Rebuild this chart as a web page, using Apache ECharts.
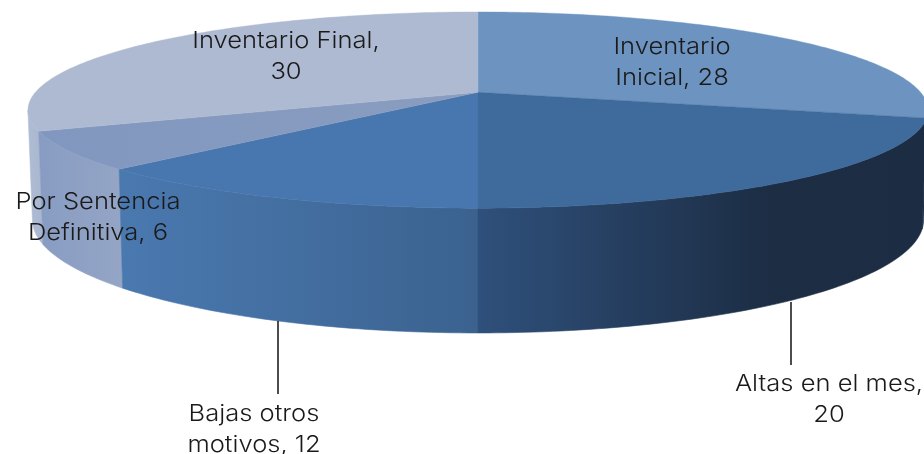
<!DOCTYPE html>
<html><head><meta charset="utf-8">
<style>html,body{margin:0;padding:0;background:#fff}#c{width:924px;height:454px}</style>
<script src="https://cdn.jsdelivr.net/npm/echarts@6/dist/echarts.min.js"></script>
</head><body><div id="c"></div>
<script>
var categories = ['Inventario Inicial','Altas en el mes','Bajas otros motivos','Por Sentencia Definitiva','Inventario Final'];
var values = [28,20,12,6,30];

// text as broken in the reference
var labelText = ['Inventario\nInicial, 28','Altas en el mes,\n20','Bajas otros\nmotivos, 12','Por Sentencia\nDefinitiva, 6','Inventario Final,\n30'];
var labelAt = [[672,62.5],[829,399.5],[254,429.5],[98,218],[286,56.5]];
var leaders = [null,[791,302,365],[278,321,394],null,null];
var topFill = ['#6D94C0','#3F6A9C','#4876AE',['#8197BF','#8A9DC0'],'#AEBAD2'];
var sideStops = [[[0,'#1C2D44'],[1,'#1C2D44']],[[0,'#2F507B'],[0.65,'#1C2D44'],[1,'#1B2C43']],[[0,'#4A79B0'],[1,'#3B628F']],[[0,'#889CC3'],[1,'#94A5C5']],[[0,'#AFBCD4'],[1,'#A9B6CF']]];

var cx = 478, e = 0.181;
var top_ = {a:442.6, b:94.9, y:92.3};
var bot = {a:438.2, b:109.3, y:199.5};
function proj(p,deg){
  var t = deg*Math.PI/180, X = Math.sin(t), Y = Math.cos(t), w = 1+e*Y;
  return [cx+p.a*X/w, p.y-p.b*Y/w];
}
var total = values.reduce(function(s,v){return s+v;},0);
var starts = []; values.reduce(function(s,v,i){starts[i]=s;return s+v;},0);
var edge = Math.acos(-e)*180/Math.PI;   // where the rim turns at the silhouette

function rim(p,a,b){
  var out=[], n=Math.max(2,Math.ceil(Math.abs(b-a)));
  for(var i=0;i<=n;i++) out.push(proj(p,a+(b-a)*i/n));
  return out;
}
function solid(c){
  return Array.isArray(c)?{type:'linear',x:0,y:0,x2:1,y2:0,colorStops:[{offset:0,color:c[0]},{offset:1,color:c[1]}]}:c;
}
function sideGrad(i){
  return {type:'linear',x:0,y:0,x2:1,y2:0,colorStops:sideStops[i].map(function(s){return {offset:s[0],color:s[1]};})};
}
function renderSide(params,api){
  var i = api.value(0), a0 = starts[i]/total*360, a1 = (starts[i]+api.value(1))/total*360;
  var kids = [];
  // side wall: only the part facing the viewer
  var s = Math.max(a0,edge), en = Math.min(a1,360-edge);
  if(s<en) kids.push({type:'polygon',shape:{points:rim(top_,s,en).concat(rim(bot,en,s))},style:{fill:sideGrad(i),stroke:sideGrad(i),lineWidth:0.6}});
  return {type:'group',children:kids};
}
function renderTop(params,api){
  var i = api.value(0), a0 = starts[i]/total*360, a1 = (starts[i]+api.value(1))/total*360;
  return {type:'polygon',shape:{points:[[cx,top_.y]].concat(rim(top_,a0,a1))},style:{fill:solid(topFill[i]),stroke:solid(topFill[i]),lineWidth:0.4}};
}
function renderLabel(params,api){
  var i = api.value(0), kids = [];
  var L = leaders[i];
  if(L) kids.push({type:'line',shape:{x1:L[0],y1:L[1],x2:L[0],y2:L[2]},style:{stroke:'#000',lineWidth:1.4}});
  kids.push({type:'text',x:labelAt[i][0],y:labelAt[i][1],scaleX:1.11,style:{text:labelText[i],fill:'#1a1a1a',font:'300 23px Inter',lineHeight:31,align:'center',verticalAlign:'middle'}});
  return {type:'group',children:kids};
}
var rows = values.map(function(v,i){return [i,v];});
var order = [4,0,3,2,1]; // back to front for the walls
var chart = echarts.init(document.getElementById('c'),null,{renderer:'canvas'});
chart.setOption({
  animation:false,
  backgroundColor:'#fff',
  series:[
    {type:'custom',coordinateSystem:'none',renderItem:renderSide,data:order.map(function(i){return rows[i];}),silent:true,z:1},
    {type:'custom',coordinateSystem:'none',renderItem:renderTop,data:rows,silent:true,z:2},
    {type:'custom',coordinateSystem:'none',renderItem:renderLabel,data:rows,silent:true,z:3}
  ]
});
</script></body></html>
